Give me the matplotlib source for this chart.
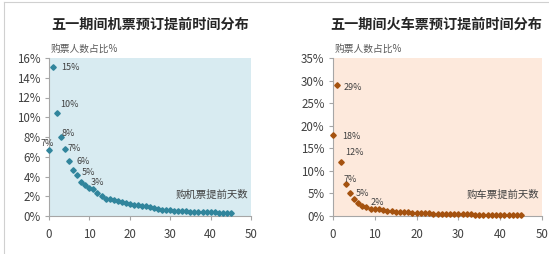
import matplotlib
matplotlib.use("Agg")
import matplotlib.pyplot as plt
from matplotlib.lines import Line2D
from matplotlib.ticker import FuncFormatter

plt.rcParams["font.family"] = ["Noto Sans CJK SC", "DejaVu Sans"]

# days booked in advance
days = list(range(46))

# share of air-ticket buyers (%)
air_share = [6.7, 15.1, 10.4, 7.95, 6.8, 5.6, 4.7, 4.2, 3.45, 3.1,
             2.85, 2.7, 2.35, 2.0, 1.75, 1.7, 1.6, 1.5, 1.45, 1.35,
             1.25, 1.15, 1.1, 1.0, 1.0, 0.95, 0.85, 0.75, 0.65, 0.6,
             0.6, 0.55, 0.55, 0.5, 0.5, 0.45, 0.45, 0.4, 0.4, 0.4,
             0.45, 0.4, 0.35, 0.35, 0.3, 0.3]

# share of train-ticket buyers (%)
train_share = [18.0, 29.0, 12.0, 7.1, 5.0, 3.8, 2.95, 2.3, 1.9, 1.6,
               1.55, 1.45, 1.3, 1.2, 1.0, 0.9, 0.85, 0.8, 0.8, 0.75,
               0.7, 0.65, 0.6, 0.6, 0.55, 0.55, 0.5, 0.45, 0.45, 0.4,
               0.4, 0.35, 0.35, 0.35, 0.3, 0.3, 0.3, 0.3, 0.3, 0.25,
               0.25, 0.25, 0.25, 0.25, 0.25, 0.25]

# which points get a value label, and where (offset in pixels)
air_labels = {0: (-2, 6), 1: (17, -1), 2: (12, 9), 3: (7, 4),
              4: (9, 0), 5: (14, -1), 6: (15, -3), 9: (12, 3)}
train_labels = {1: (16, -2), 0: (18, -2), 2: (13, 9), 3: (5, 4),
                4: (13, 0), 8: (11, 5)}

W, H = 549, 254
fig = plt.figure(figsize=(W / 100, H / 100), dpi=100)


def px_axes(x0, y0, x1, y1):
    # pixel box (top-left origin) -> figure fraction
    return fig.add_axes([x0 / W, 1 - y1 / H, (x1 - x0) / W, (y1 - y0) / H])


def panel(ax, y, labels, ymax, ystep, bg, color, title, xlabel, title_x):
    ax.set_facecolor(bg)
    ax.plot(days, y, linestyle="none", marker="D", markersize=2.8,
            color=color, clip_on=False, zorder=3)
    ax.set_xlim(0, 50)
    ax.set_ylim(0, ymax)
    ax.set_xticks(range(0, 51, 10))
    ax.set_yticks(range(0, ymax + 1, ystep))
    ax.yaxis.set_major_formatter(FuncFormatter(lambda v, _: f"{v:.0f}%"))
    for s in ("top", "right"):
        ax.spines[s].set_visible(False)
    for s in ("left", "bottom"):
        ax.spines[s].set_color("#a6a6a6")
        ax.spines[s].set_linewidth(0.8)
    ax.tick_params(direction="out", length=3, width=0.8, color="#a6a6a6",
                   labelsize=8.3, labelcolor="#404040", pad=3)
    ax.tick_params(axis="x", pad=6)
    for i, (dx, dy) in labels.items():
        ax.annotate(f"{y[i]:.0f}%", (days[i], y[i]), xytext=(dx, dy),
                    textcoords="offset pixels", ha="center", va="center",
                    fontsize=6.5, color="#404040")
    ax.text(0.985, 0.135, xlabel, transform=ax.transAxes, ha="right",
            va="center", fontsize=7.5, color="#404040")
    ax.text(0.01, 1.055, "购票人数占比%", transform=ax.transAxes, ha="left",
            va="center", fontsize=7, color="#595959")
    fig.text(title_x / W, 1 - 25 / H, title, ha="center", va="center",
             fontsize=10.2, fontweight="bold", color="#262626")


ax1 = px_axes(49, 58, 251, 216)
panel(ax1, air_share, air_labels, 16, 2, "#d8ebf1", "#31859c",
      "五一期间机票预订提前时间分布", "购机票提前天数", 150)

ax2 = px_axes(333, 58, 542, 216)
panel(ax2, train_share, train_labels, 35, 5, "#fde9dc", "#a5520f",
      "五一期间火车票预订提前时间分布", "购车票提前天数", 436)

# thin grey frame lines along the top and left edge
fig.add_artist(Line2D([4 / W, 1], [1 - 2 / H, 1 - 2 / H], color="#d0d0d0",
                      linewidth=0.8, transform=fig.transFigure))
fig.add_artist(Line2D([4 / W, 4 / W], [0, 1 - 2 / H], color="#d0d0d0",
                      linewidth=0.8, transform=fig.transFigure))

fig.savefig("out.png", dpi=100)
